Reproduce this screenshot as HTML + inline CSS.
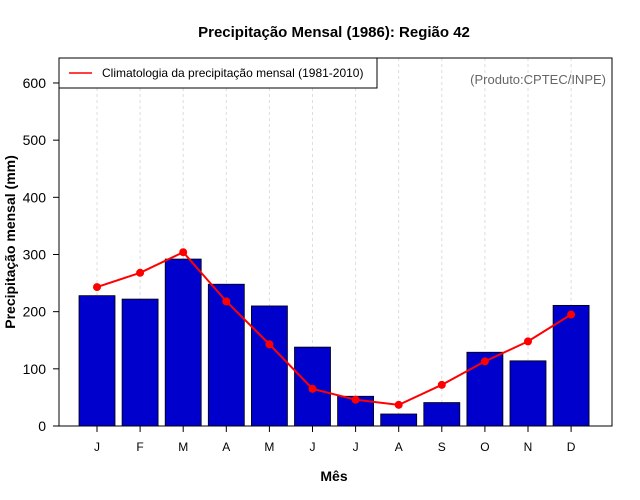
<!DOCTYPE html>
<html><head><meta charset="utf-8"><style>
body{margin:0;background:#fff}
svg{display:block;font-family:"Liberation Sans",sans-serif}
</style></head><body>
<svg id="c" width="640" height="500" xmlns="http://www.w3.org/2000/svg">
<text x="334" y="37" text-anchor="middle" font-size="15" font-weight="bold">Precipitação Mensal (1986): Região 42</text>
<text x="334" y="481" text-anchor="middle" font-size="14" font-weight="bold">Mês</text>
<text transform="translate(15,242) rotate(-90)" text-anchor="middle" font-size="14" font-weight="bold">Precipitação mensal (mm)</text>
<g id="grid"></g><g id="bars"></g><g id="line"></g><g id="axes"></g>
<rect x="59" y="58" width="553" height="368" fill="none" stroke="#000" stroke-width="1"/>
<g>
<rect x="59" y="58" width="318" height="30" fill="#fff" stroke="#000"/>
<line x1="69" y1="73" x2="92" y2="73" stroke="red" stroke-width="1.5"/>
<text x="102" y="77" font-size="12">Climatologia da precipitação mensal (1981-2010)</text>
</g>
<text x="606" y="84" text-anchor="end" font-size="13" fill="#666">(Produto:CPTEC/INPE)</text>
</svg>
<script>
const months=["J","F","M","A","M","J","J","A","S","O","N","D"];
const precip=[228,222,292,248,210,138,52,21,41,129,114,211];
const clim=[243,268,304,218,143,65,46,37,72,113,148,195];
const yTicks=[0,100,200,300,400,500,600];
const ns="http://www.w3.org/2000/svg";
const x=i=>97+i*43.1;
const y=v=>426-v*0.5717;
function mk(t,a,p){const e=document.createElementNS(ns,t);for(const k in a)e.setAttribute(k,a[k]);document.getElementById(p).appendChild(e);return e;}
months.forEach((m,i)=>{
 const g=mk("line",{x1:x(i),x2:x(i),y1:58,y2:426,stroke:"#ddd","stroke-dasharray":"3,3"},"grid");
 
 
 const b=mk("rect",{x:x(i)-18,y:y(precip[i]),width:36,height:426-y(precip[i]),fill:"#0000cd",stroke:"#000","stroke-width":0.8},"bars");
 
 
 const t=mk("text",{x:x(i),y:451,"text-anchor":"middle","font-size":12},"axes");
 t.textContent=m;
 
 
 const tk=mk("line",{x1:x(i),x2:x(i),y1:426,y2:432,stroke:"#000"},"axes");
 
 
});
const pl=mk("polyline",{points:clim.map((v,i)=>x(i)+","+y(v)).join(" "),fill:"none",stroke:"red","stroke-width":2},"line");


clim.forEach((v,i)=>{
 const c=mk("circle",{cx:x(i),cy:y(v),r:4,fill:"red"},"line");
 
 
});
yTicks.forEach(v=>{
 const tk=mk("line",{x1:53,x2:59,y1:y(v),y2:y(v),stroke:"#000"},"axes");
 
 
 const t=mk("text",{x:46,y:y(v)+5,"text-anchor":"end","font-size":14},"axes");
 t.textContent=v;
 
 
});
</script>
</body></html>
